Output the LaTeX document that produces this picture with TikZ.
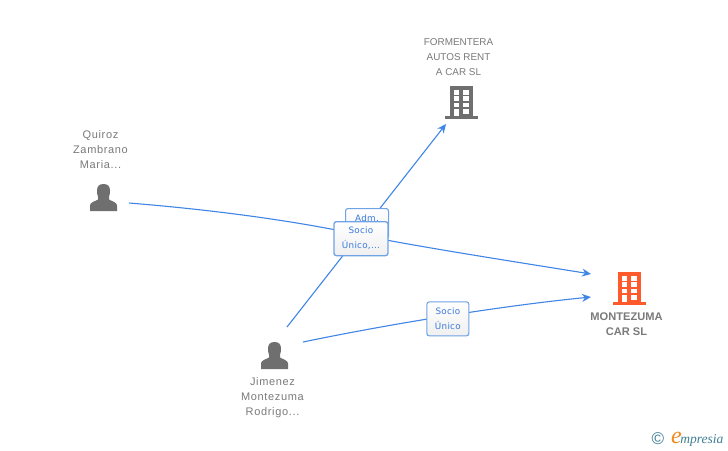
\documentclass[tikz,border=0pt]{standalone}
\usepackage{fontspec}
\usetikzlibrary{arrows.meta}
\setmainfont{Liberation Sans}
\newfontfamily\boxfont[LetterSpace=3]{DejaVu Sans}
\newfontfamily\lowerfont[LetterSpace=6]{Liberation Sans}
\newfontfamily\logofont{Liberation Serif}
\definecolor{edgeblue}{HTML}{3F86E6}
\definecolor{boxblue}{HTML}{6FA3E8}
\definecolor{labelblue}{HTML}{3A7BDC}
\definecolor{icongrey}{HTML}{6F6F6F}
\definecolor{textgrey}{HTML}{7A7A7A}
\definecolor{iconorange}{HTML}{FF5A2B}
\definecolor{logoteal}{HTML}{3F7F95}
\definecolor{logoorange}{HTML}{F08A1D}
\tikzset{
  edge/.style={draw=edgeblue,line width=1.1pt},
  arrowedge/.style={edge,-{Stealth[length=9pt,width=8pt]}},
  role/.style={draw=boxblue,line width=1.1pt,rounded corners=2.5pt,top color=white,bottom color=white!94!black,
    text=labelblue,font=\boxfont\fontsize{8.8}{15}\selectfont,align=center,inner sep=0pt,anchor=north west},
  caption/.style={text=textgrey,font=\fontsize{9.9}{15}\selectfont,align=center,inner sep=0pt},
  lowercaption/.style={caption,font=\lowerfont\fontsize{11}{15}\selectfont},
  boldcaption/.style={caption,font=\bfseries\fontsize{11.1}{15}\selectfont},
}
\newcommand{\buildingicon}[3]{% x of body left, y of top, colour
  \begin{scope}[shift={(#1,#2)}]
    \fill[#3] (0,0) rectangle (22.7,30);
    \fill[#3] (-5,30) rectangle (27.7,32.6);
    \foreach \wy in {4,10.2,16.5,22.8}{
      \fill[white] (13.4,\wy) rectangle (18.7,\wy+4.9);
    }
    \foreach \wy in {4,10.2,16.5}{
      \fill[white] (4,\wy) rectangle (9.3,\wy+4.9);
    }
    \fill[white] (4,22.8) rectangle (9.3,30);
  \end{scope}}
\newcommand{\personicon}[2]{% centre x, top y
  \begin{scope}[shift={(#1,#2)}]
    \fill[icongrey] (-13.5,27) -- (-13.5,21.5) .. controls (-13.5,18.5) and (-9,17.5) .. (-5.5,15.5)
      -- (-5.5,13) .. controls (-6.5,10.5) and (-6.5,8) .. (-6.5,6.5)
      .. controls (-6.5,2) and (-4,0) .. (0,0) .. controls (4,0) and (6.5,2) .. (6.5,6.5)
      .. controls (6.5,8) and (6.5,10.5) .. (5.5,13) -- (5.5,15.5)
      .. controls (9,17.5) and (13.5,18.5) .. (13.5,21.5) -- (13.5,27) -- cycle;
  \end{scope}}
\begin{document}
\begin{tikzpicture}[x=1pt,y=-1pt]
\useasboundingbox (0,0) rectangle (728,450);
\fill[white] (0,0) rectangle (728,450);

% anchors for connectors
\coordinate (quirozout) at (129,203);
\coordinate (jimA) at (287,327);
\coordinate (jimB) at (303,342);
\coordinate (formin) at (446,124);
\coordinate (montA) at (591,274);
\coordinate (montB) at (591,297);

% connectors
\draw[arrowedge] (jimA) -- (formin);
\draw[arrowedge] (quirozout) .. controls (240,212) and (320,226) .. (360,235) .. controls (420,247) and (510,261) .. (montA);
\draw[arrowedge] (jimB) .. controls (390,324) and (500,306) .. (montB);

% role labels
\node[role,minimum width=43pt,minimum height=30pt] (adm) at (345,208) {\raisebox{10pt}{Adm.}};
\node[role,minimum width=54pt,minimum height=34pt,line width=1.3pt] (soc1) at (333.3,221) {Socio\\Único,...};
\node[role,minimum width=42pt,minimum height=34pt] (soc2) at (426.3,301.3) {Socio\\Único};

% icons
\buildingicon{450}{86}{icongrey}
\buildingicon{618}{272}{iconorange}
\personicon{103.5}{184}
\personicon{274.5}{342}

% captions
\node[caption] (formentera) at (458.5,57) {FORMENTERA\\AUTOS RENT\\A CAR SL};
\node[lowercaption] (quiroz) at (100.5,150) {Quiroz\\Zambrano\\Maria...};
\node[lowercaption] (jimenez) at (272.5,398) {Jimenez\\Montezuma\\Rodrigo...};
\node[boldcaption] (montezuma) at (626.5,324) {MONTEZUMA\\CAR SL};

% logo
\node[inner sep=0pt,text=logoteal,font=\fontsize{17}{17}\selectfont] (copyright) at (658,439) {©};
\node[inner sep=0pt,anchor=base west,text=logoteal,font=\logofont\itshape\fontsize{13.5}{13.5}\selectfont] (logo) at (671,443.5)
  {{\color{logoorange}\fontsize{24}{24}\selectfont e}\kern-1.5pt mpresia};
\end{tikzpicture}
\end{document}
